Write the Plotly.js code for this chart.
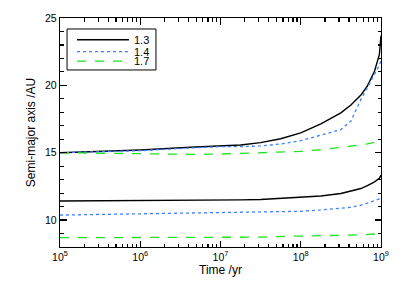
<!DOCTYPE html>
<html>
<head>
<meta charset="utf-8">
<script src="https://cdn.plot.ly/plotly-3.0.1.min.js"></script>
<style>html,body{margin:0;padding:0;background:#fff;}#chart{width:399px;height:285px;}</style>
</head>
<body>
<div id="chart"></div>
<script>
var time = [1e5, 3.16e5, 1e6, 4.22e6, 1e7, 1.78e7, 3.16e7, 5.62e7, 1e8, 1.78e8, 3.16e8, 4.22e8, 5.62e8, 6.76e8, 8.32e8, 9.55e8, 1e9];

var upper13 = [15.0, 15.08, 15.2, 15.4, 15.5, 15.57, 15.75, 16.04, 16.47, 17.14, 17.96, 18.54, 19.28, 19.95, 21.07, 22.3, 23.7];
var upper14 = [15.0, 15.07, 15.15, 15.35, 15.45, 15.45, 15.5, 15.65, 15.9, 16.3, 16.72, 17.35, 18.96, 19.83, 20.82, 21.5, 21.87];
var upper17 = [15.0, 14.95, 14.9, 14.88, 14.9, 14.95, 14.98, 15.03, 15.1, 15.22, 15.38, 15.48, 15.58, 15.65, 15.75, 15.85, 15.9];

var lower13 = [11.42, 11.43, 11.44, 11.45, 11.47, 11.5, 11.53, 11.6, 11.7, 11.79, 11.97, 12.15, 12.34, 12.55, 12.84, 13.1, 13.34];
var lower14 = [10.37, 10.42, 10.46, 10.52, 10.55, 10.56, 10.57, 10.6, 10.65, 10.75, 10.85, 10.95, 11.1, 11.25, 11.4, 11.52, 11.6];
var lower17 = [8.69, 8.69, 8.69, 8.7, 8.7, 8.71, 8.73, 8.78, 8.8, 8.82, 8.85, 8.88, 8.9, 8.93, 8.95, 8.98, 8.99];

var names = ['1.3', '1.4', '1.7'];
var xTickVals = [1e5, 1e6, 1e7, 1e8, 1e9];
var xTickText = ['10<sup>5</sup>', '10<sup>6</sup>', '10<sup>7</sup>', '10<sup>8</sup>', '10<sup>9</sup>'];
var yTickVals = [10, 15, 20, 25];

// minor tick positions (2..9 in every decade, every unit on y)
var xMinor = [];
for (var d = 5; d < 9; d++) { for (var m = 2; m <= 9; m++) { xMinor.push(m * Math.pow(10, d)); } }
var yMinor = [];
for (var v = 8; v <= 25; v++) { if (v % 5 !== 0) yMinor.push(v); }

var styles = [
  {color: '#000000', width: 1.4, dash: 'solid'},
  {color: '#3d80ff', width: 1.3, dash: 'dot'},
  {color: '#22e022', width: 1.3, dash: 'dash'}
];
var legendIds = ['legend', 'legend2', 'legend3'];
var uppers = [upper13, upper14, upper17];
var lowers = [lower13, lower14, lower17];

var traces = [];
for (var i = 0; i < 3; i++) {
  traces.push({x: time, y: uppers[i], mode: 'lines', name: names[i], line: styles[i], legend: legendIds[i], hoverinfo: 'skip'});
}
for (var i = 0; i < 3; i++) {
  traces.push({x: time, y: lowers[i], mode: 'lines', name: names[i], line: styles[i], showlegend: false, hoverinfo: 'skip'});
}
// carrier trace for the minor-tick axes
traces.push({x: [time[0]], y: [null], xaxis: 'x2', yaxis: 'y2', mode: 'lines', showlegend: false, hoverinfo: 'skip'});

var fam = 'Liberation Sans, Arial, sans-serif';
var tickFont = {family: fam, size: 10.5, color: '#000'};
var titleFont = {family: fam, size: 12, color: '#000'};

function leg(yc) {
  return {
    x: 0.0374, y: yc, xanchor: 'left', yanchor: 'middle',
    bgcolor: 'rgba(0,0,0,0)', borderwidth: 0,
    font: {family: fam, size: 11, color: '#000'},
    itemwidth: 52
  };
}

var layout = {
  width: 399, height: 285,
  margin: {l: 60, r: 18, t: 18, b: 38},
  paper_bgcolor: '#fff', plot_bgcolor: '#fff',
  font: tickFont,
  showlegend: true,
  legend: leg(0.905),
  legend2: leg(0.853),
  legend3: leg(0.812),
  shapes: [{
    type: 'rect', xref: 'paper', yref: 'paper',
    x0: 0.022, x1: 0.299, y0: 0.773, y1: 0.952,
    line: {color: '#000', width: 1}, fillcolor: 'rgba(0,0,0,0)'
  }],
  xaxis: {
    type: 'log', range: [5, 9],
    tickvals: xTickVals, ticktext: xTickText, tickfont: tickFont,
    ticks: 'inside', ticklen: 6.5, tickwidth: 1.4, tickcolor: '#000',
    showline: true, linecolor: '#000', linewidth: 1.2, mirror: 'ticks',
    showgrid: false, zeroline: false,
    title: {text: 'Time /yr', font: titleFont, standoff: 2}
  },
  yaxis: {
    range: [8, 25],
    tickvals: yTickVals, tickfont: tickFont,
    ticks: 'inside', ticklen: 6.5, tickwidth: 1.4, tickcolor: '#000',
    showline: true, linecolor: '#000', linewidth: 1.2, mirror: 'ticks',
    showgrid: false, zeroline: false,
    title: {text: 'Semi-major axis /AU', font: titleFont, standoff: 6}
  },
  xaxis2: {
    type: 'log', range: [5, 9], overlaying: 'x', anchor: 'y2',
    tickvals: xMinor, showticklabels: false,
    ticks: 'inside', ticklen: 3.5, tickwidth: 1.2, tickcolor: '#000',
    showline: false, mirror: 'ticks', showgrid: false, zeroline: false
  },
  yaxis2: {
    range: [8, 25], overlaying: 'y', anchor: 'x2',
    tickvals: yMinor, showticklabels: false,
    ticks: 'inside', ticklen: 3.5, tickwidth: 1.2, tickcolor: '#000',
    showline: false, mirror: 'ticks', showgrid: false, zeroline: false
  }
};

Plotly.newPlot('chart', traces, layout, {staticPlot: true, displayModeBar: false});
</script>
</body>
</html>
